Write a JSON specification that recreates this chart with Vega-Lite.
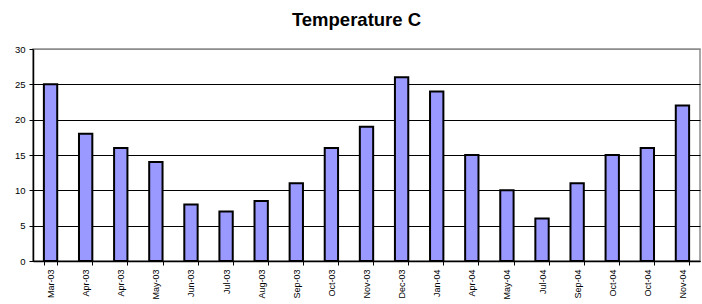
{
  "$schema": "https://vega.github.io/schema/vega-lite/v6.json",
  "width": 667,
  "height": 212,
  "autosize": "none",
  "padding": {"left": 33, "top": 49, "right": 2, "bottom": 43},
  "background": "white",
  "title": {
    "text": "Temperature C",
    "font": "Liberation Sans",
    "fontSize": 18.5,
    "fontWeight": "bold",
    "color": "black",
    "anchor": "middle",
    "dx": -10,
    "offset": 15
  },
  "config": {
    "view": {"stroke": "#8c8c8c", "strokeWidth": 1.5},
    "axis": {
      "labelFont": "Liberation Sans",
      "labelFontSize": 9,
      "labelColor": "black",
      "domainColor": "black",
      "tickColor": "black",
      "title": null
    }
  },
  "data": {
    "values": [
      {"label": "Mar-03", "temp": 25},
      {"label": "Apr-03", "temp": 18},
      {"label": "Apr-03_2", "temp": 16},
      {"label": "May-03", "temp": 14},
      {"label": "Jun-03", "temp": 8},
      {"label": "Jul-03", "temp": 7},
      {"label": "Aug-03", "temp": 8.5},
      {"label": "Sep-03", "temp": 11},
      {"label": "Oct-03", "temp": 16},
      {"label": "Nov-03", "temp": 19},
      {"label": "Dec-03", "temp": 26},
      {"label": "Jan-04", "temp": 24},
      {"label": "Apr-04", "temp": 15},
      {"label": "May-04", "temp": 10},
      {"label": "Jul-04", "temp": 6},
      {"label": "Sep-04", "temp": 11},
      {"label": "Oct-04", "temp": 15},
      {"label": "Oct-04_2", "temp": 16},
      {"label": "Nov-04", "temp": 22}
    ]
  },
  "mark": {"type": "bar", "fill": "#9999FF", "stroke": "black", "strokeWidth": 2},
  "encoding": {
    "x": {
      "field": "label",
      "type": "nominal",
      "sort": null,
      "scale": {"paddingInner": 0.62, "paddingOuter": 0.31},
      "axis": {
        "labelAngle": -90,
        "labelExpr": "split(datum.label, '_')[0]",
        "tickBand": "extent",
        "tickSize": 4,
        "labelPadding": 4,
        "domainWidth": 1.5,
        "labelFontSize": 9
      }
    },
    "y": {
      "field": "temp",
      "type": "quantitative",
      "scale": {"domain": [0, 30], "nice": false},
      "axis": {
        "values": [0, 5, 10, 15, 20, 25, 30],
        "tickSize": 4,
        "labelPadding": 4,
        "domainWidth": 1.5,
        "gridColor": {"condition": {"test": "datum.value == 30", "value": "#8c8c8c"}, "value": "black"},
        "gridOpacity": 1,
        "gridWidth": 1,
        "labelFontSize": 9.5
      }
    }
  }
}
